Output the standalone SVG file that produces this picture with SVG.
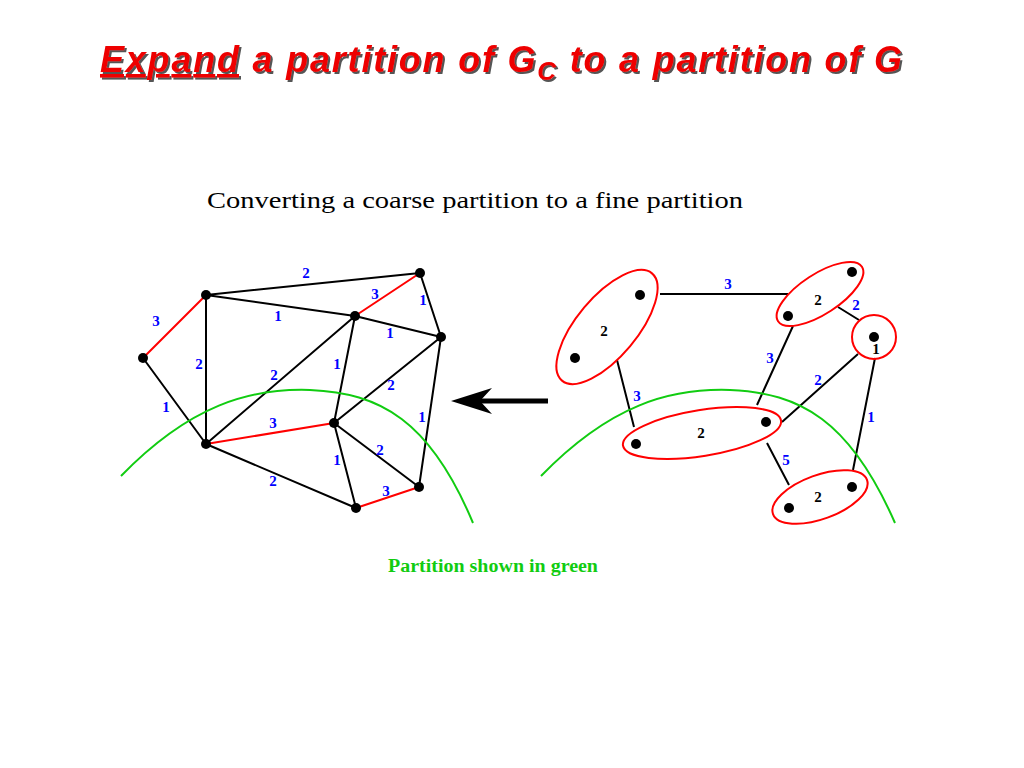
<svg xmlns="http://www.w3.org/2000/svg" width="1024" height="768" viewBox="0 0 1024 768">
<defs><filter id="sh" x="-5%" y="-20%" width="110%" height="150%"><feDropShadow dx="2" dy="2" stdDeviation="0.5" flood-color="#555"/></filter></defs>
<style>
.e{stroke:#000;stroke-width:2;fill:none}
.r{stroke:#f00;stroke-width:2;fill:none}
.g{stroke:#1c1;stroke-width:2;fill:none}
.n{fill:#000}
.w{font-family:"Liberation Serif",serif;font-weight:bold;font-size:15px;fill:#00f;text-anchor:middle}
.k{font-family:"Liberation Serif",serif;font-weight:bold;font-size:15px;fill:#000;text-anchor:middle}
.t{font-family:"Liberation Sans",Arial,sans-serif;font-weight:bold;font-style:italic;font-size:36px}
</style>
<rect width="1024" height="768" fill="#fff"/>
<g id="title" filter="url(#sh)">
<text class="t" x="100" y="72" fill="#e00" textLength="802" lengthAdjust="spacing"><tspan text-decoration="underline">Expand</tspan> a partition of G<tspan font-size="26" dy="8">C</tspan><tspan dy="-8"> to a partition of G</tspan></text>
</g>
<text x="207" y="208" font-family="Liberation Serif,serif" font-size="24" textLength="536" lengthAdjust="spacingAndGlyphs">Converting a coarse partition to a fine partition</text>
<text x="388" y="572" font-family="Liberation Serif,serif" font-weight="bold" font-size="18" fill="#1c1" textLength="210" lengthAdjust="spacingAndGlyphs">Partition shown in green</text>
<g id="connectors">
<path class="e" d="M143,358L206,444M206,295L420,273M206,295L355,316M206,295L206,444M420,273L441,337M355,316L441,337M355,316L334,423M355,316L206,444M441,337L334,423M441,337L419,487M334,423L356,508M334,423L419,487M206,444L356,508"/>
<path class="r" d="M143,358L206,295M420,273L355,316M206,444L334,423M356,508L419,487"/>
<path class="e" d="M660,294L788,294M617,360L634,427M793,326L757,405M838,307L859,320M858,354L782,422M875,358L853,470M767,443L789,485"/>
<path class="g" d="M121,476C190,405 250,388 310,390C380,393 430,420 473,523"/>
<path class="g" d="M541,476C610,405 670,388 730,390C800,393 850,420 895,523"/>
<line x1="470" y1="401" x2="548" y2="401" stroke="#000" stroke-width="5"/>
<polygon points="451,401 492,388 480,401 492,414" fill="#000"/>
</g>
<g id="left-labels">
<text class="w" x="306" y="278">2</text><text class="w" x="375" y="299">3</text><text class="w" x="423" y="305">1</text>
<text class="w" x="278" y="321">1</text><text class="w" x="390" y="338">1</text><text class="w" x="156" y="326">3</text>
<text class="w" x="199" y="369">2</text><text class="w" x="166" y="412">1</text><text class="w" x="274" y="380">2</text>
<text class="w" x="337" y="369">1</text><text class="w" x="391" y="390">2</text><text class="w" x="422" y="422">1</text>
<text class="w" x="273" y="428">3</text><text class="w" x="380" y="455">2</text><text class="w" x="337" y="465">1</text>
<text class="w" x="273" y="486">2</text><text class="w" x="386" y="496">3</text>
</g>
<g id="left-nodes">
<circle class="n" cx="143" cy="358" r="5"/><circle class="n" cx="206" cy="295" r="5"/><circle class="n" cx="420" cy="273" r="5"/>
<circle class="n" cx="355" cy="316" r="5"/><circle class="n" cx="441" cy="337" r="5"/><circle class="n" cx="334" cy="423" r="5"/>
<circle class="n" cx="206" cy="444" r="5"/><circle class="n" cx="356" cy="508" r="5"/><circle class="n" cx="419" cy="487" r="5"/>
</g>
<g id="c1"><ellipse class="r" cx="607" cy="327" rx="70" ry="30" transform="rotate(-50 607 327)"/><circle class="n" cx="575" cy="358" r="5"/><circle class="n" cx="640" cy="295" r="5"/><text class="k" x="604" y="336">2</text></g>
<g id="c2"><ellipse class="r" cx="820" cy="294" rx="50" ry="20" transform="rotate(-33 820 294)"/><circle class="n" cx="788" cy="316" r="5"/><circle class="n" cx="852" cy="272" r="5"/><text class="k" x="818" y="305">2</text></g>
<g id="c3"><circle class="r" cx="874" cy="337" r="22"/><circle class="n" cx="874" cy="337" r="5"/><text class="k" x="876" y="354">1</text></g>
<g id="c4"><ellipse class="r" cx="702" cy="433" rx="80" ry="23" transform="rotate(-9 702 433)"/><circle class="n" cx="636" cy="444" r="5"/><circle class="n" cx="766" cy="422" r="5"/><text class="k" x="701" y="438">2</text></g>
<g id="c5"><ellipse class="r" cx="820" cy="497" rx="50" ry="22" transform="rotate(-20 820 497)"/><circle class="n" cx="789" cy="508" r="5"/><circle class="n" cx="852" cy="487" r="5"/><text class="k" x="818" y="502">2</text></g>
<g id="right-labels">
<text class="w" x="728" y="289">3</text><text class="w" x="637" y="401">3</text><text class="w" x="770" y="363">3</text>
<text class="w" x="856" y="310">2</text><text class="w" x="818" y="385">2</text><text class="w" x="871" y="422">1</text><text class="w" x="786" y="465">5</text>
</g>
</svg>
